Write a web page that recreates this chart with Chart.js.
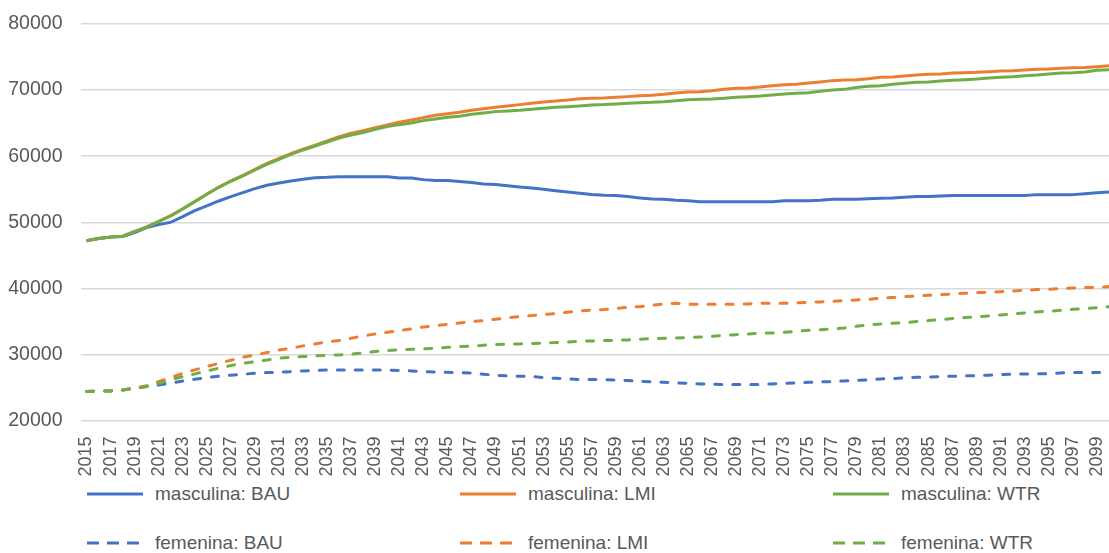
<!DOCTYPE html>
<html>
<head>
<meta charset="utf-8">
<script src="https://cdn.jsdelivr.net/npm/chart.js@4/dist/chart.umd.min.js"></script>
<style>
  html, body { margin: 0; padding: 0; background: #fff; overflow: hidden; }
  #wrap { position: relative; width: 1109px; height: 553px; }
  #c { position: absolute; left: 0; top: 0; }
  .lg { position: absolute; display: flex; align-items: center; height: 24px;
        font: 19px "Liberation Sans", Arial, sans-serif; color: #595959; white-space: nowrap; }
  .lg svg { margin-right: 12px; }
</style>
</head>
<body>
<div id="wrap">
  <canvas id="c" width="1109" height="480"></canvas>
  <div id="legend"></div>
</div>
<script>
// Years on the horizontal axis (2015–2100)
const years = [
  2015, 2016, 2017, 2018, 2019, 2020, 2021, 2022, 2023, 2024,
  2025, 2026, 2027, 2028, 2029, 2030, 2031, 2032, 2033, 2034,
  2035, 2036, 2037, 2038, 2039, 2040, 2041, 2042, 2043, 2044,
  2045, 2046, 2047, 2048, 2049, 2050, 2051, 2052, 2053, 2054,
  2055, 2056, 2057, 2058, 2059, 2060, 2061, 2062, 2063, 2064,
  2065, 2066, 2067, 2068, 2069, 2070, 2071, 2072, 2073, 2074,
  2075, 2076, 2077, 2078, 2079, 2080, 2081, 2082, 2083, 2084,
  2085, 2086, 2087, 2088, 2089, 2090, 2091, 2092, 2093, 2094,
  2095, 2096, 2097, 2098, 2099, 2100
];

// Labelled years (every other year)
const tickYears = [
  2015, 2017, 2019, 2021, 2023, 2025, 2027, 2029, 2031, 2033,
  2035, 2037, 2039, 2041, 2043, 2045, 2047, 2049, 2051, 2053,
  2055, 2057, 2059, 2061, 2063, 2065, 2067, 2069, 2071, 2073,
  2075, 2077, 2079, 2081, 2083, 2085, 2087, 2089, 2091, 2093,
  2095, 2097, 2099
];

const yTicks = [20000, 30000, 40000, 50000, 60000, 70000, 80000];

const mascBAU = [
  47200, 47550, 47750, 47830, 48430, 49200, 49640, 50000, 50850, 51760,
  52470, 53220, 53880, 54480, 55090, 55590, 55940, 56250, 56500, 56750,
  56800, 56900, 56900, 56900, 56900, 56900, 56700, 56700, 56450, 56300,
  56300, 56150, 56000, 55800, 55700, 55540, 55340, 55190, 54990, 54780,
  54580, 54380, 54200, 54080, 54030, 53880, 53680, 53520, 53470, 53320,
  53270, 53120, 53120, 53120, 53120, 53120, 53120, 53120, 53270, 53270,
  53270, 53320, 53470, 53470, 53470, 53570, 53620, 53670, 53780, 53880,
  53880, 53980, 54030, 54030, 54030, 54030, 54030, 54030, 54030, 54180,
  54180, 54180, 54180, 54330, 54480, 54580
];

const mascLMI = [
  47200, 47550, 47780, 47900, 48600, 49300, 50150, 51000, 52050, 53150,
  54250, 55330, 56250, 57100, 58000, 58900, 59650, 60400, 61050, 61650,
  62300, 62950, 63460, 63860, 64320, 64720, 65120, 65480, 65830, 66180,
  66430, 66640, 66940, 67190, 67390, 67600, 67800, 68000, 68200, 68350,
  68500, 68700, 68750, 68800, 68900, 69010, 69160, 69210, 69360, 69560,
  69710, 69760, 69910, 70110, 70270, 70320, 70470, 70670, 70820, 70870,
  71070, 71230, 71430, 71530, 71580, 71730, 71930, 71980, 72130, 72280,
  72380, 72430, 72590, 72640, 72690, 72790, 72890, 72940, 73040, 73140,
  73190, 73290, 73390, 73420, 73540, 73700
];

const mascWTR = [
  47200, 47550, 47780, 47880, 48580, 49250, 50100, 50950, 52010, 53120,
  54230, 55290, 56200, 57000, 57910, 58770, 59530, 60280, 60940, 61540,
  62150, 62750, 63200, 63560, 64060, 64470, 64770, 65020, 65380, 65630,
  65880, 66030, 66330, 66530, 66740, 66840, 66940, 67090, 67240, 67390,
  67490, 67600, 67750, 67800, 67900, 68000, 68100, 68150, 68250, 68400,
  68550, 68600, 68650, 68750, 68900, 69000, 69100, 69260, 69410, 69510,
  69610, 69810, 70010, 70110, 70400, 70570, 70670, 70870, 71020, 71170,
  71230, 71380, 71480, 71580, 71680, 71830, 71930, 72030, 72180, 72280,
  72430, 72590, 72640, 72740, 72990, 73090
];

const femBAU = [
  24400, 24430, 24480, 24630, 24880, 25130, 25380, 25640, 25990, 26240,
  26490, 26700, 26850, 27000, 27150, 27250, 27300, 27400, 27500, 27560,
  27650, 27650, 27650, 27650, 27650, 27650, 27560, 27500, 27400, 27350,
  27300, 27250, 27200, 27000, 26850, 26750, 26700, 26650, 26490, 26390,
  26290, 26190, 26200, 26180, 26140, 26040, 25940, 25840, 25790, 25690,
  25640, 25540, 25490, 25440, 25440, 25440, 25440, 25540, 25640, 25690,
  25790, 25840, 25890, 25990, 26060, 26140, 26290, 26340, 26440, 26540,
  26590, 26650, 26700, 26750, 26800, 26850, 26950, 27000, 27050, 27050,
  27100, 27200, 27250, 27250, 27250, 27250
];

const femLMI = [
  24400, 24430, 24480, 24630, 24900, 25250, 25890, 26490, 27150, 27660,
  28160, 28660, 29120, 29570, 29930, 30280, 30680, 30930, 31290, 31590,
  31890, 32090, 32440, 32800, 33100, 33350, 33600, 33850, 34160, 34360,
  34560, 34760, 34970, 35120, 35320, 35520, 35720, 35870, 36030, 36180,
  36380, 36580, 36730, 36780, 36930, 37130, 37230, 37440, 37640, 37740,
  37590, 37590, 37590, 37590, 37590, 37640, 37740, 37740, 37740, 37790,
  37890, 37940, 38040, 38140, 38240, 38340, 38490, 38600, 38750, 38850,
  38950, 39050, 39150, 39250, 39350, 39400, 39500, 39600, 39700, 39810,
  39860, 39960, 40060, 40110, 40160, 40260
];

const femWTR = [
  24400, 24430, 24480, 24630, 24880, 25150, 25640, 26140, 26650, 27050,
  27500, 27910, 28310, 28660, 28910, 29170, 29420, 29570, 29670, 29770,
  29870, 29920, 30020, 30220, 30430, 30580, 30730, 30780, 30830, 30930,
  31080, 31180, 31240, 31390, 31490, 31540, 31590, 31640, 31740, 31790,
  31890, 31990, 32040, 32090, 32140, 32190, 32290, 32390, 32440, 32490,
  32540, 32640, 32740, 32890, 32990, 33100, 33200, 33250, 33350, 33500,
  33650, 33750, 33850, 34000, 34250, 34460, 34610, 34710, 34810, 34970,
  35120, 35270, 35420, 35570, 35670, 35820, 35970, 36120, 36280, 36430,
  36530, 36680, 36830, 36930, 37080, 37230
];

const FONT = '"Liberation Sans", Arial, sans-serif';
const TEXT = '#595959';
const BLUE = '#4472C4', ORANGE = '#ED7D31', GREEN = '#70AD47';
const DASH = [7, 11];

// Series in legend order; "layer" decides which line sits on top (0 = topmost)
const series = [
  { label: 'masculina: BAU', values: mascBAU, color: BLUE,   dashed: false, layer: 4 },
  { label: 'masculina: LMI', values: mascLMI, color: ORANGE, dashed: false, layer: 3 },
  { label: 'masculina: WTR', values: mascWTR, color: GREEN,  dashed: false, layer: 2 },
  { label: 'femenina: BAU',  values: femBAU,  color: BLUE,   dashed: true,  layer: 5 },
  { label: 'femenina: LMI',  values: femLMI,  color: ORANGE, dashed: true,  layer: 1 },
  { label: 'femenina: WTR',  values: femWTR,  color: GREEN,  dashed: true,  layer: 0 }
];

const datasets = series.map(s => ({
  label: s.label,
  data: years.map((yr, i) => ({ x: yr, y: s.values[i] })),
  borderColor: s.color,
  backgroundColor: s.color,
  borderWidth: 3,
  borderDash: s.dashed ? DASH : [],
  borderCapStyle: s.dashed ? 'round' : 'butt',
  borderJoinStyle: 'round',
  pointRadius: 0,
  tension: 0,
  fill: false,
  order: s.layer
}));

// Axes keep fixed bands; tick labels may overhang the plot edges
const noPadding = () => ({ left: 0, top: 0, right: 0, bottom: 0 });
function fixBand(size, horizontal) {
  return scale => {
    scale.paddingLeft = scale.paddingRight = scale.paddingTop = scale.paddingBottom = 0;
    scale.getPadding = noPadding;
    if (horizontal) scale.height = size; else scale.width = size;
  };
}

new Chart(document.getElementById('c'), {
  type: 'line',
  data: { datasets },
  options: {
    responsive: false,
    animation: false,
    devicePixelRatio: 1,
    layout: { padding: { left: 8, right: 0, top: 24, bottom: 0 } },
    plugins: { legend: { display: false }, tooltip: { enabled: false } },
    scales: {
      x: {
        type: 'linear',
        min: 2014.5,
        max: 2100,
        grid: { display: false, drawTicks: false },
        border: { display: false },
        afterBuildTicks: scale => { scale.ticks = tickYears.map(v => ({ value: v })); },
        afterFit: fixBand(59.5, true),
        ticks: {
          autoSkip: false,
          minRotation: 90,
          maxRotation: 90,
          padding: 16,
          color: TEXT,
          font: { family: FONT, size: 18 },
          callback: v => String(v)
        }
      },
      y: {
        min: 20000,
        max: 80000,
        grid: { color: '#d9d9d9', lineWidth: 1.5, drawTicks: false },
        border: { display: false },
        afterBuildTicks: scale => { scale.ticks = yTicks.map(v => ({ value: v })); },
        afterFit: fixBand(72.5, false),
        ticks: {
          padding: 18,
          color: TEXT,
          font: { family: FONT, size: 19.5 },
          callback: v => String(v)
        }
      }
    }
  }
});

// Legend: three columns, solid series on the first row, dashed on the second
const legend = document.getElementById('legend');
const colX = [87, 460, 833];
const rowY = [494, 543];
series.forEach((s, i) => {
  const item = document.createElement('div');
  item.className = 'lg';
  item.style.left = colX[i % 3] + 'px';
  item.style.top = (rowY[Math.floor(i / 3)] - 12) + 'px';
  const dash = s.dashed ? ' stroke-dasharray="12 8"' : '';
  item.innerHTML =
    '<svg width="56" height="6"><line x1="0" y1="3" x2="56" y2="3" stroke="' + s.color +
    '" stroke-width="3"' + dash + '/></svg><span>' + s.label + '</span>';
  legend.appendChild(item);
});
</script>
</body>
</html>
